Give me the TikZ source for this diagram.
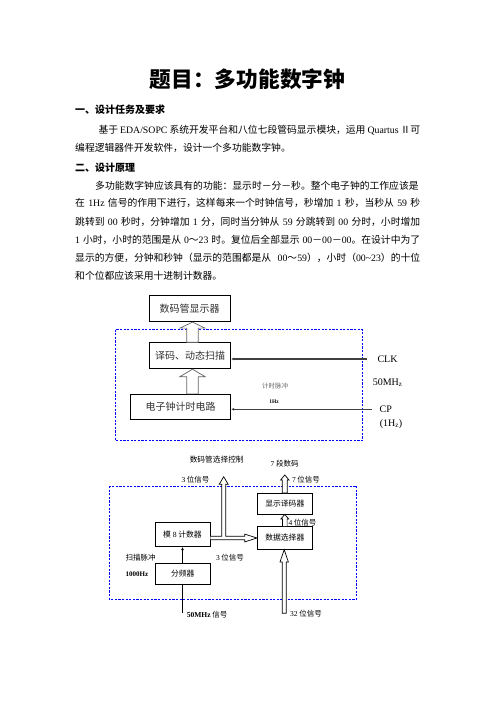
\documentclass[tikz,border=0pt]{standalone}
\usepackage{fontspec}
\setmainfont{Liberation Serif}
\newfontfamily\cjk{Noto Sans CJK SC}
\usetikzlibrary{arrows.meta,calc}
\XeTeXlinebreaklocale "zh"
\XeTeXlinebreakskip=0pt plus 1pt
\newcommand\en[1]{{\rmfamily #1}}
\newcommand\hollowup[6][]{%
  \draw[harrow,#1] let \p1=(#2), \p2=(#3) in
    (\x1-#4,\y1) -- (\x1-#4,\y2-#6) -- (\x1-#5,\y2-#6) -- (\x1,\y2)
    -- (\x1+#5,\y2-#6) -- (\x1+#4,\y2-#6) -- (\x1+#4,\y1) -- cycle;}

\begin{document}
\begin{tikzpicture}[x=1pt,y=-1pt,
	blk/.style={draw, line width=0.9pt, fill=white, inner sep=0pt, text=black!80,
		font=\cjk\fontsize{10}{12}\selectfont},
	sblk/.style={draw, line width=0.7pt, fill=white, inner sep=0pt,
		font=\cjk\fontsize{7.8}{9}\selectfont},
	frame/.style={draw=blue, line width=0.9pt, dash pattern=on 2.2pt off 1.4pt},
	harrow/.style={draw=black, fill=white, line width=0.7pt},
	sig/.style={draw=black!75, line width=1.1pt, -{Latex[length=3pt,width=3pt]}},
	bodytxt/.style={anchor=west, inner sep=0pt, font=\cjk\fontsize{9.8}{12}\selectfont},
	lbl/.style={inner sep=0pt, font=\cjk\fontsize{7.5}{9}\selectfont},
	etxt/.style={inner sep=0pt, font=\fontsize{10}{12}\selectfont}]
	
	\useasboundingbox (0,0) rectangle (496,702);
	\fill[white] (0,0) rectangle (496,702);
	
	\node[inner sep=0pt, font=\cjk\bfseries\fontsize{21.7}{26}\selectfont] (title) at (247.5,79.7) {题目：多功能数字钟};
	\node[bodytxt, font=\cjk\bfseries\fontsize{10}{12}\selectfont] (h1) at (75,109.3) {一、设计任务及要求};
	\node[bodytxt] (a1) at (98.3,130) {\makebox[321.7pt][s]{基于\en{ EDA/SOPC }系统开发平台和八位七段管码显示模块，运用\en{ Quartus }Ⅱ可}};
	\node[bodytxt] (a2) at (75,148.3) {编程逻辑器件开发软件，设计一个多功能数字钟。};
	\node[bodytxt, font=\cjk\bfseries\fontsize{10}{12}\selectfont] (h2) at (75,167.3) {二、设计原理};
	\node[bodytxt] (b1) at (95,186) {\makebox[325pt][s]{多功能数字钟应该具有的功能：显示时－分－秒。整个电子钟的工作应该是}};
	\node[bodytxt] (b2) at (75,203.3) {\makebox[345pt][s]{在\en{ 1Hz }信号的作用下进行，这样每来一个时钟信号，秒增加\en{ 1 }秒，当秒从\en{ 59 }秒}};
	\node[bodytxt] (b3) at (75,221.7) {\makebox[345pt][s]{跳转到\en{ 00 }秒时，分钟增加\en{ 1 }分，同时当分钟从\en{ 59 }分跳转到\en{ 00 }分时，小时增加}};
	\node[bodytxt] (b4) at (75,240) {\makebox[345pt][s]{\en{1 }小时，小时的范围是从\en{ 0}～\en{23 }时。复位后全部显示\en{ 00}－\en{00}－\en{00}。在设计中为了}};
	\node[bodytxt] (b5) at (75,258) {\makebox[345pt][s]{显示的方便，分钟和秒钟（显示的范围都是从\en{ 00}～\en{59}），小时（\en{00\string~23}）的十位}};
	\node[bodytxt] (b6) at (75,275.5) {和个位都应该采用十进制计数器。};
	
	\draw[frame] (115.7,329.5) rectangle (362.3,440.7);
	\node[blk, minimum width=80.7pt, minimum height=26.7pt] (disp) at (189.7,308.3) {数码管显示器};
	\node[blk, minimum width=81.4pt, minimum height=26pt] (scan) at (190,355.7) {译码、动态扫描};
	\node[blk, minimum width=100pt, minimum height=25pt] (timer) at (180.7,406.8) {电子钟计时电路};
	\hollowup[draw=black!60]{$(scan.north)+(2.5,0)$}{disp.south}{5.8pt}{12.5pt}{6pt}
	\hollowup[draw=black!60]{$(scan.south|-timer.north)+(2.5,0)$}{scan.south}{5.8pt}{12.5pt}{7.5pt}
	\coordinate (clk) at (366.7,359);
	\coordinate (cp) at (371.7,409.3);
	\draw[sig] (clk) -- (scan.east|-clk);
	\draw[sig] (cp) -- (timer.east|-cp);
	\node[etxt, anchor=west] (clklbl) at (377.3,359) {CLK};
	\node[etxt] (clkf) at (387.7,382.7) {50MH\textsubscript{z}};
	\node[etxt] (cplbl) at (385.8,409.3) {CP};
	\node[etxt] (cpf) at (391,424) {(1H\textsubscript{z})};
	\node[lbl, text=black!60, font=\cjk\fontsize{6.5}{8}\selectfont] (tick) at (275,386) {计时脉冲};
	\node[inner sep=0pt, font=\bfseries\fontsize{5.5}{7}\selectfont] (tickf) at (274,401.7) {1Hz};
	
	\draw[frame] (109.3,486) rectangle (356.7,599.3);
	\node[sblk, minimum width=55pt, minimum height=24.3pt] (cnt) at (182.5,534.5) {模 \en{8} 计数器};
	\node[sblk, minimum width=54.3pt, minimum height=21pt] (divd) at (182.8,573.8) {分频器};
	\node[sblk, minimum width=55pt, minimum height=22.6pt] (mux) at (284.8,538) {数据选择器};
	\node[sblk, minimum width=55pt, minimum height=20.7pt] (dec) at (284.8,503.7) {显示译码器};
	\coordinate (selout) at (223.7,476.7);
	\coordinate (segout) at (285,475);
	\coordinate (in50) at (182.7,613.3);
	\coordinate (bus32) at (284.2,613.3);
	\draw[harrow] let \p1=(cnt.east), \p2=(mux.west), \p3=(selout) in
		(\x1,\y2-1.7pt) -- (\x2-12.3pt,\y2-1.7pt) -- (\x2-12.3pt,\y2-3.9pt) -- (\x2,\y2)
		-- (\x2-12.3pt,\y2+3.9pt) -- (\x2-12.3pt,\y2+1.7pt) -- (\x3+2pt,\y2+1.7pt)
		-- (\x3+2pt,\y3-7.6pt) -- (\x3+4.5pt,\y3-7.6pt) -- (\x3,\y3) -- (\x3-4.5pt,\y3-7.6pt)
		-- (\x3-2pt,\y3-7.6pt) -- (\x3-2pt,\y2+1.7pt) -- (\x1,\y2+1.7pt);
	\hollowup{mux.north}{dec.south}{2.3pt}{3.8pt}{4.5pt}
	\hollowup{dec.north}{segout}{2.5pt}{4.2pt}{5pt}
	\hollowup{bus32}{mux.south}{2pt}{4.2pt}{12.4pt}
	\draw[line width=0.7pt] (in50) -- (in50|-divd.south);
	\draw[line width=0.7pt, -{Latex[length=3pt,width=3pt]}] (cnt.south|-divd.north) -- (cnt.south);
	\node[lbl, font=\cjk\fontsize{7.7}{9}\selectfont] (selctl) at (216.7,459.3) {数码管选择控制};
	\node[lbl] (sel3) at (195.5,480) {\en{3} 位信号};
	\node[lbl] (seg7) at (284.7,463.3) {\en{7} 段数码};
	\node[lbl] (bit7) at (306,479.3) {\en{7} 位信号};
	\node[lbl] (bit4) at (302.5,523) {\en{4} 位信号};
	\node[lbl] (cnt3) at (230,557.7) {\en{3} 位信号};
	\node[lbl] (scanp) at (140.5,557.3) {扫描脉冲};
	\node[lbl, font=\bfseries\fontsize{7}{9}\selectfont] (scanf) at (137,574.3) {1000Hz};
	\node[lbl, anchor=west] (in50lbl) at (186.7,615) {\en{\bfseries 50MHz} 信号};
	\node[lbl, anchor=west] (bus32lbl) at (290,614) {\en{32} 位信号};
\end{tikzpicture}
\end{document}
